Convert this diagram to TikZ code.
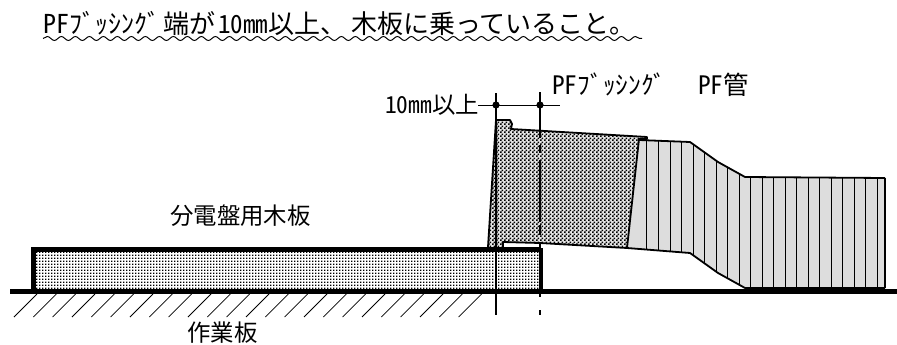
\documentclass[tikz,border=0pt]{standalone}
\usepackage{fontspec}
\setmainfont{Noto Sans CJK JP}[RawFeature=+hwid]
\usetikzlibrary{patterns,decorations.pathmorphing}
\definecolor{pipegray}{HTML}{DDDDDD}
\definecolor{bushgray}{HTML}{E4E4E4}
\pgfdeclarepatternformonly{boardp}{\pgfqpoint{0pt}{0pt}}{\pgfqpoint{2.8pt}{2.8pt}}{\pgfqpoint{2.8pt}{2.8pt}}{%
  \pgfpathrectangle{\pgfqpoint{0pt}{0pt}}{\pgfqpoint{1.5pt}{1.5pt}}\pgfusepath{fill}}
\pgfdeclarepatternformonly{bushp}{\pgfqpoint{0pt}{0pt}}{\pgfqpoint{4pt}{4.4pt}}{\pgfqpoint{4pt}{4.4pt}}{%
  \pgfpathrectangle{\pgfqpoint{0pt}{0pt}}{\pgfqpoint{2pt}{1.7pt}}%
  \pgfpathrectangle{\pgfqpoint{2pt}{2.2pt}}{\pgfqpoint{2pt}{1.7pt}}\pgfusepath{fill}}
\tikzset{
  lbl/.style={inner sep=0pt,anchor=base west,font=\fontsize{23.4}{24}\selectfont},
  lblbig/.style={inner sep=0pt,anchor=base west,font=\fontsize{25.4}{26}\selectfont},
  ttl/.style={inner sep=0pt,anchor=base west,font=\fontsize{26}{26}\selectfont},
  thick line/.style={line width=1.8pt,black},
  rib/.style={line width=0.8pt,black},
  hatch/.style={line width=0.8pt,black},
}
\begin{document}
\begin{tikzpicture}[x=1pt,y=-1pt]
\useasboundingbox (0,0) rectangle (897,345);
% title
\node[ttl] (title) at (43,34) {PFﾌﾞｯｼﾝｸﾞ\kern3pt 端が\kern3pt{\fontsize{25}{26}\selectfont 10mm}以上、\kern5pt 木板に乗っていること。};
\coordinate (wa) at (43,38.5);\coordinate (wb) at (642,38.5);
\draw[line width=1pt,decorate,decoration={snake,segment length=14pt,amplitude=2pt}] (wa) -- (wb);
% bushing
\coordinate (b1) at (488,247);\coordinate (b2) at (496,120);\coordinate (b3) at (510,120);
\coordinate (b4) at (512,124);\coordinate (b5) at (511,129);\coordinate (b6) at (647,137);
\coordinate (b6a) at (647,139);\coordinate (b7) at (639,139);\coordinate (b8) at (627,248);
\coordinate (b9) at (540,243);\coordinate (b9a) at (503,242);\coordinate (b10) at (503,247);
\fill[bushgray] (b1)--(b2)--(b3)--(b4)--(b5)--(b6)--(b6a)--(b7)--(b8)--(b9)--(b9a)--(b10)--cycle;
\fill[pattern=bushp,pattern color=black] (b1)--(b2)--(b3)--(b4)--(b5)--(b6)--(b6a)--(b7)--(b8)--(b9)--(b9a)--(b10)--cycle;
% pipe
\coordinate (p1) at (639,140);\coordinate (p2) at (690,142);\coordinate (p3) at (718,162);
\coordinate (p4) at (745,177);\coordinate (p5) at (885,178);\coordinate (p6) at (885,288);
\coordinate (p7) at (745,288);\coordinate (p8) at (718,273);\coordinate (p9) at (690,253);\coordinate (p10) at (627,248);
\fill[pipegray] (p1)--(p2)--(p3)--(p4)--(p5)--(p6)--(p7)--(p8)--(p9)--(p10)--cycle;
\begin{scope}
\clip (p1)--(p2)--(p3)--(p4)--(p5)--(p6)--(p7)--(p8)--(p9)--(p10)--cycle;
\foreach \x in {646.7,658.3,670,681.7,693.3,704.3,716.7,727.7,739.3,750.7,762.7,773.7,785.7,796.7,808.3,819.3,831.3,842.7,854.3,865.7,877.3}
  \draw[rib] (\x,130)--(\x,295);
\end{scope}
\draw[thick line,line join=round] (b1)--(b2)--(b3)--(b4)--(b5)--(b6)--(b6a)--(b7)--(b8)--(b9)--(b9a)--(b10);
\draw[thick line,line join=round] (p1)--(p2)--(p3)--(p4)--(p5);
\draw[thick line,line join=round] (p10)--(p9)--(p8)--(p7)--(p6);
\draw[line width=2.6pt] (p5)--(p6);
% board
\coordinate (w1) at (33.5,291);\coordinate (w2) at (33.5,249.5);\coordinate (w3) at (541,249.5);\coordinate (w4) at (541,291);
\fill[white] (w1)--(w2)--(w3)--(w4)--cycle;
\fill[pattern=boardp,pattern color=black] (w1)--(w2)--(w3)--(w4)--cycle;
\draw[line width=4.4pt] (w1)--(w2)--(w3);
\draw[line width=3pt] (541,248)--(w4);
% bench
\coordinate (g1) at (10,291.5);\coordinate (g2) at (897,291.5);
\draw[line width=5pt] (g1)--(g2);
\foreach \x in {14,33.33,52.67,72,91.33,110.67,130,149.33,168.67,188,207.33,226.67,246,265.33,284.67,304,323.33,342.67,362,381.33,400.67,420,439.33,458.67} {
  \draw[hatch] (\x,317)--(\x+23,294);
}
% dimension
\coordinate (v1t) at (496,93);\coordinate (v1b) at (496,315);\coordinate (v2t) at (540,92);\coordinate (v2b) at (540,315);
\draw[line width=1.6pt] (v1t)--(v1b);
\draw[line width=1.6pt,dash pattern=on 46pt off 7pt on 8pt off 7pt on 62pt off 3pt on 10pt off 8pt on 54pt off 13pt on 8pt off 100pt] (v2t)--(v2b);
\coordinate (da) at (478,105);\coordinate (db) at (560,105);
\draw[line width=0.8pt] (da)--(db);
\fill (496,105) circle (3.6pt) (540,105) circle (3.6pt);
% labels
\node[lbl] (l10) at (385,113) {10mm以上};
\node[lblbig] (lpb) at (552,95) {PFﾌﾞｯｼﾝｸﾞ};
\node[lblbig] (lpf) at (698,95) {PF管};
\node[lbl] (lbd) at (170,224.5) {分電盤用木板};
\node[lbl] (lsg) at (187,341.5) {作業板};
\end{tikzpicture}
\end{document}
